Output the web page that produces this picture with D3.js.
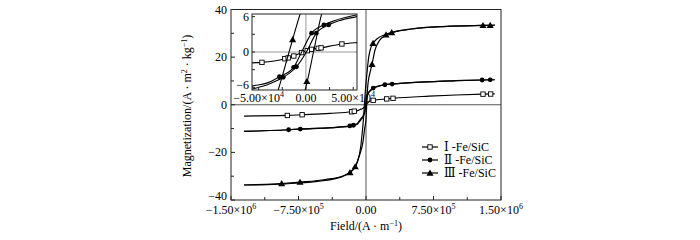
<!DOCTYPE html>
<html>
<head>
<meta charset="utf-8">
<script src="https://cdn.jsdelivr.net/npm/d3@7"></script>
<style>
  body { margin: 0; background: #fff; }
  svg { font-family: "Liberation Serif", "Times New Roman", serif; }
</style>
</head>
<body>
<svg id="chart"></svg>
<script>
// axis ticks
const xTicks = [-1.5e6, -7.5e5, 0, 7.5e5, 1.5e6];
const xTickBase = ["−1.50×10", "−7.50×10", "0.00", "7.50×10", "1.50×10"];
const xTickExp = ["6", "5", "", "5", "6"];
const xMinor = [-1.125e6, -3.75e5, 3.75e5, 1.125e6];
const yTicks = [-40, -20, 0, 20, 40];
const yTickLabels = ["−40", "−20", "0", "20", "40"];
const yMinor = [-30, -10, 10, 30];

const insetXTicks = [-5e4, 0, 5e4];
const insetXBase = ["−5.00×10", "0.00", "5.00×10"];
const insetXExp = ["4", "", "4"];
const insetXMinor = [-2.5e4, 2.5e4];
const insetYTicks = [-6, 0, 6];
const insetYLabels = ["−6", "0", "6"];
const insetYMinor = [-3, 3];

const names = ["Ⅰ-Fe/SiC", "Ⅱ-Fe/SiC", "Ⅲ-Fe/SiC"];
const symbols = ["square", "circle", "triangle"];

// Ⅰ-Fe/SiC : [field A/m, magnetization]
const iBranch = [[-1.356e6,-4.75],[-0.874e6,-4.5],[-0.71e6,-4.2],[-0.4e6,-3.6],[-0.16e6,-2.95],[-0.13e6,-2.7],
  [-0.08e6,-2.25],[-0.057e6,-1.85],[-0.0465e6,-1.76],[-0.0223e6,-1.14],[-0.0128e6,-0.68],[-0.0046e6,-0.1],
  [0.0014e6,0.22],[0.006e6,0.45],[0.013e6,0.62],[0.038e6,1.36],[0.054e6,1.6],[0.08e6,1.85],[0.23e6,2.45],
  [0.3e6,2.7],[0.7e6,3.6],[1.0e6,4.1],[1.3e6,4.45],[1.43e6,4.55]];
const iMarks = [[-0.874e6,-4.5],[-0.71e6,-4.2],[-0.16e6,-2.95],[-0.13e6,-2.7],[0.08e6,1.85],[0.23e6,2.45],
  [0.3e6,2.7],[1.3e6,4.45],[1.385e6,4.5],[-0.0465e6,-1.76],[-0.0223e6,-1.14],[-0.0188e6,-1.0],[-0.0128e6,-0.68],
  [-0.0046e6,-0.1],[0.0014e6,0.22],[0.006e6,0.45],[0.013e6,0.62],[0.016e6,0.7],[0.038e6,1.36]];

// Ⅱ-Fe/SiC
const iiUpper = [[-1.356e6,-11.2],[-0.86e6,-10.5],[-0.73e6,-10.2],[-0.4e6,-9.6],[-0.18e6,-8.9],[-0.14e6,-8.6],
  [-0.1e6,-8.0],[-0.057e6,-5.8],[-0.04e6,-5.2],[-0.028e6,-4.2],[-0.013e6,-2.6],[-0.0045e6,0],[0.006e6,3.2],
  [0.019e6,4.6],[0.03e6,5.3],[0.054e6,6.3],[0.08e6,7.0],[0.15e6,8.0],[0.21e6,8.4],[0.29e6,8.7],[0.6e6,9.5],
  [1.0e6,10.1],[1.29e6,10.4],[1.43e6,10.5]];
const iiLower = [[-1.356e6,-11.2],[-0.86e6,-10.5],[-0.73e6,-10.2],[-0.4e6,-9.7],[-0.18e6,-9.0],[-0.1e6,-8.3],
  [-0.057e6,-6.3],[-0.04e6,-5.5],[-0.024e6,-4.3],[-0.01e6,-2.5],[0.0005e6,0],[0.011e6,3.2],[0.024e6,4.6],
  [0.035e6,5.3],[0.054e6,6.0],[0.08e6,6.8],[0.15e6,7.9],[0.21e6,8.4],[0.29e6,8.7],[0.6e6,9.5],[1.0e6,10.1],
  [1.29e6,10.4],[1.43e6,10.5]];
const iiMarks = [[-0.86e6,-10.5],[-0.73e6,-10.2],[-0.18e6,-8.9],[-0.14e6,-8.6],[0.08e6,7.0],[0.21e6,8.4],
  [0.29e6,8.7],[1.29e6,10.4],[1.38e6,10.45],[-0.028e6,-4.2],[-0.024e6,-4.3],[-0.013e6,-2.6],[-0.01e6,-2.5],
  [0.006e6,3.2],[0.011e6,3.2],[0.019e6,4.6],[0.024e6,4.6]];

// Ⅲ-Fe/SiC
const iiiUpper = [[-1.356e6,-33.7],[-0.94e6,-33.1],[-0.73e6,-32.5],[-0.45e6,-31.4],[-0.25e6,-29.8],
  [-0.15e6,-27.5],[-0.1e6,-24.5],[-0.06e6,-18],[-0.04e6,-11],[-0.0295e6,-6.5],[-0.0178e6,0],[-0.006e6,6.5],
  [0.01e6,13],[0.03e6,20],[0.05e6,23.5],[0.078e6,25.8],[0.12e6,27.6],[0.222e6,29.6],[0.3e6,30.5],
  [0.5e6,31.8],[0.9e6,32.9],[1.3e6,33.3],[1.43e6,33.4]];
const iiiLower = [[-1.356e6,-33.7],[-0.9e6,-33.2],[-0.5e6,-32.0],[-0.3e6,-30.6],[-0.178e6,-28.5],
  [-0.12e6,-26],[-0.07e6,-21],[-0.033e6,-15.5],[-0.015e6,-10],[-0.001e6,-6.5],[0.008e6,0],[0.0167e6,6.5],
  [0.03e6,11],[0.045e6,13.5],[0.067e6,17],[0.1e6,23],[0.15e6,27],[0.222e6,29.2],[0.3e6,30.4],[0.5e6,31.8],
  [0.9e6,32.9],[1.3e6,33.3],[1.43e6,33.4]];
const iiiMarks = [[-0.937e6,-33.1],[-0.733e6,-32.5],[-0.178e6,-28.5],[-0.12e6,-26],[-0.033e6,-15.5],
  [0.067e6,17],[0.078e6,25.8],[0.222e6,29.4],[0.286e6,30.3],[1.3e6,33.3],[1.38e6,33.35],
  [-0.014e6,2.1],[0.001e6,-5.0]];

const series = [
  { name: names[0], symbol: symbols[0], branches: [iBranch], marks: iMarks },
  { name: names[1], symbol: symbols[1], branches: [iiUpper, iiLower], marks: iiMarks },
  { name: names[2], symbol: symbols[2], branches: [iiiUpper, iiiLower], marks: iiiMarks }
];

const width = 700, height = 240;

let x = d3.scaleLinear().domain([-1.5e6, 1.5e6]).range([231, 501]);
let y = d3.scaleLinear().domain([-40, 40]).range([200, 9.5]);
let ix = d3.scaleLinear().domain([-5.7e4, 5.4e4]).range([252, 357]);
let iy = d3.scaleLinear().domain([-6.45, 6.45]).range([90, 14]);

const svg = d3.select("#chart").attr("width", width).attr("height", height);
svg.append("rect").attr("width", width).attr("height", height).attr("fill", "#fff");

const defs = svg.append("defs");
defs.append("clipPath").attr("id", "clipMain").append("rect")
  .attr("x", 231).attr("y", 9.5).attr("width", 270).attr("height", 190.5);
defs.append("clipPath").attr("id", "clipInset").append("rect")
  .attr("x", 252).attr("y", 14).attr("width", 105).attr("height", 76);

// draw a marker of the given kind
function marker(g, kind, cx, cy) {
  if (kind === "square") {
    g.append("rect").attr("x", cx - 2.2).attr("y", cy - 2.2).attr("width", 4.4).attr("height", 4.4)
      .attr("fill", "#fff").attr("stroke", "#000").attr("stroke-width", 0.9);
  } else if (kind === "circle") {
    g.append("circle").attr("cx", cx).attr("cy", cy).attr("r", 2.4).attr("fill", "#000");
  } else {
    g.append("path").attr("d", d3.symbol(d3.symbolTriangle, 22)())
      .attr("transform", "translate(" + cx + "," + (cy + 0.6) + ")").attr("fill", "#000");
  }
}

// label with superscript exponent
function sciText(sel, base, exp, size, supSize) {
  sel.text(null);
  sel.append("tspan").text(base);
  if (exp) {
    sel.append("tspan").attr("dy", -size * 0.4).attr("font-size", supSize).text(exp);
  }
}

// ---- main frame, zero lines
svg.append("line").attr("x1", 231).attr("x2", 501).attr("y1", y(0)).attr("y2", y(0))
  .attr("stroke", "#555").attr("stroke-width", 1);
svg.append("line").attr("x1", x(0)).attr("x2", x(0)).attr("y1", 9.5).attr("y2", 200)
  .attr("stroke", "#555").attr("stroke-width", 1);
svg.append("rect").attr("x", 231).attr("y", 9.5).attr("width", 270).attr("height", 190.5)
  .attr("fill", "none").attr("stroke", "#222").attr("stroke-width", 1);

// main ticks (inward)
const ticks = svg.append("g").attr("stroke", "#222").attr("stroke-width", 1);
xTicks.concat(xMinor).forEach(v => {
  ticks.append("line").attr("x1", x(v)).attr("x2", x(v)).attr("y1", 200).attr("y2", xMinor.includes(v) ? 197 : 196);
});
yTicks.concat(yMinor).forEach(v => {
  ticks.append("line").attr("x1", 231).attr("x2", yMinor.includes(v) ? 234 : 235).attr("y1", y(v)).attr("y2", y(v));
});

svg.selectAll(".ylab").data(yTicks).enter().append("text")
  .attr("class", "ylab").attr("x", 227).attr("y", d => d === -40 ? y(d) : y(d) + 4)
  .attr("text-anchor", "end").attr("font-size", 12).text((d, i) => yTickLabels[i]);

svg.selectAll(".xlab").data(xTicks).enter().append("text")
  .attr("class", "xlab").attr("x", d => x(d)).attr("y", 214)
  .attr("text-anchor", "middle").attr("font-size", 12)
  .each(function(d, i) { sciText(d3.select(this), xTickBase[i], xTickExp[i], 12, 8); });

// axis titles
const xt = svg.append("text").attr("x", 366).attr("y", 230).attr("text-anchor", "middle").attr("font-size", 12);
xt.append("tspan").text("Field/(A · m");
xt.append("tspan").attr("dy", -4.5).attr("font-size", 8).text("−1");
xt.append("tspan").attr("dy", 4.5).text(")");

const yt = svg.append("text").attr("transform", "translate(191,106) rotate(-90)")
  .attr("text-anchor", "middle").attr("font-size", 12);
yt.append("tspan").text("Magnetization/(A · m");
yt.append("tspan").attr("dy", -4.5).attr("font-size", 8).text("2");
yt.append("tspan").attr("dy", 4.5).text(" · kg");
yt.append("tspan").attr("dy", -4.5).attr("font-size", 8).text("−1");
yt.append("tspan").attr("dy", 4.5).text(")");

// ---- inset
const inset = svg.append("g");
inset.append("rect").attr("x", 252).attr("y", 14).attr("width", 105).attr("height", 76).attr("fill", "#fff");
inset.append("line").attr("x1", 252).attr("x2", 357).attr("y1", iy(0)).attr("y2", iy(0))
  .attr("stroke", "#999").attr("stroke-width", 1);
inset.append("line").attr("x1", ix(0)).attr("x2", ix(0)).attr("y1", 14).attr("y2", 90)
  .attr("stroke", "#999").attr("stroke-width", 1);

const iline = d3.line().x(d => ix(d[0])).y(d => iy(d[1])).curve(d3.curveMonotoneX);
const ig = inset.append("g").attr("clip-path", "url(#clipInset)");
series.forEach(s => {
  s.branches.forEach(b => {
    ig.append("path").attr("d", iline(b)).attr("fill", "none").attr("stroke", "#000").attr("stroke-width", 1.1);
  });
  s.marks.forEach(p => marker(ig, s.symbol, ix(p[0]), iy(p[1])));
});
inset.append("rect").attr("x", 252).attr("y", 14).attr("width", 105).attr("height", 76)
  .attr("fill", "none").attr("stroke", "#222").attr("stroke-width", 1);
insetXTicks.concat(insetXMinor).forEach(v => {
  inset.append("line").attr("x1", ix(v)).attr("x2", ix(v)).attr("y1", 90).attr("y2", 87)
    .attr("stroke", "#222");
});
insetYTicks.concat(insetYMinor).forEach(v => {
  inset.append("line").attr("x1", 252).attr("x2", 255).attr("y1", iy(v)).attr("y2", iy(v))
    .attr("stroke", "#222");
});
inset.selectAll(".iylab").data(insetYTicks).enter().append("text")
  .attr("class", "iylab").attr("x", 249).attr("y", d => d === -6 ? iy(d) + 2 : iy(d) + 4)
  .attr("text-anchor", "end").attr("font-size", 12).text((d, i) => insetYLabels[i]);
inset.selectAll(".ixlab").data(insetXTicks).enter().append("text")
  .attr("class", "ixlab").attr("x", d => ix(d)).attr("y", 102)
  .attr("text-anchor", "middle").attr("font-size", 12)
  .each(function(d, i) { sciText(d3.select(this), insetXBase[i], insetXExp[i], 12, 8); });

// ---- main curves
const line = d3.line().x(d => x(d[0])).y(d => y(d[1])).curve(d3.curveMonotoneX);
const mg = svg.append("g").attr("clip-path", "url(#clipMain)");
series.forEach(s => {
  s.branches.forEach(b => {
    mg.append("path").attr("d", line(b)).attr("fill", "none").attr("stroke", "#000").attr("stroke-width", 1.2);
  });
  s.marks.filter(p => Math.abs(p[0]) > 6e4).forEach(p => marker(mg, s.symbol, x(p[0]), y(p[1])));
});

// ---- legend (numeral in its own tspan so the rest stays serif)
const legend = svg.append("g");
series.forEach((s, i) => {
  const ly = 147 + i * 13;
  legend.append("line").attr("x1", 422).attr("x2", 438).attr("y1", ly).attr("y2", ly)
    .attr("stroke", "#000").attr("stroke-width", 1.2);
  marker(legend, s.symbol, 430, ly);
  const t = legend.append("text").attr("x", 444).attr("y", ly + 4).attr("font-size", 12);
  t.append("tspan").attr("font-family", "'DejaVu Serif', serif").text(s.name.slice(0, 1));
  t.append("tspan").attr("font-family", "'Liberation Serif', serif").text(" " + s.name.slice(1));
});
</script>
</body>
</html>
